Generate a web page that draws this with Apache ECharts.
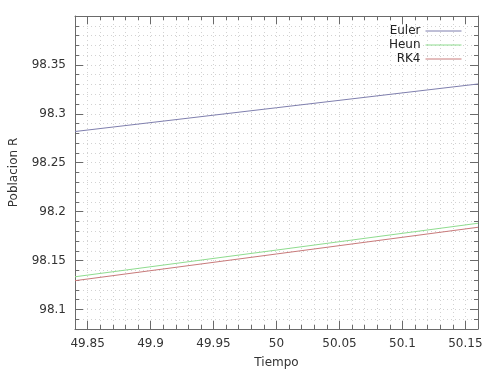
<!DOCTYPE html>
<html>
<head>
<meta charset="utf-8">
<script src="https://cdn.jsdelivr.net/npm/echarts@6/dist/echarts.min.js"></script>
<style>html,body{margin:0;padding:0;background:#fff}#c{width:500px;height:375px}</style>
</head>
<body>
<div id="c"></div>
<script>
var tiempo = [49.84, 50.00, 50.16];
var euler = [98.2819, 98.3062, 98.3305];
var heun  = [98.1334, 98.1607, 98.1881];
var rk4   = [98.1294, 98.1567, 98.1840];
var xTickLabels = [49.85, 49.9, 49.95, 50, 50.05, 50.1, 50.15];
var yTickLabels = [98.1, 98.15, 98.2, 98.25, 98.3, 98.35];
var xMin = 49.84, xMax = 50.16, yMin = 98.08, yMax = 98.40;

function pairs(xs, ys){ return xs.map(function(x,i){ return [x, ys[i]]; }); }

var font = 'DejaVu Sans';
var axisLineStyle = {color:'#6a6a6a', width:1};

function xAx(pos, opts){
  var a = {type:'value', position:pos, min:xMin, max:xMax, interval:0.01,
    axisLine:{show:true, onZero:false, lineStyle:axisLineStyle},
    axisTick:{show:true, inside:true, length:4, lineStyle:axisLineStyle},
    axisLabel:{show:false}, splitLine:{show:false}};
  return Object.assign(a, opts||{});
}
function yAx(pos, opts){
  var a = {type:'value', position:pos, min:yMin, max:yMax, interval:0.01,
    axisLine:{show:true, onZero:false, lineStyle:axisLineStyle},
    axisTick:{show:true, inside:true, length:4, lineStyle:axisLineStyle},
    axisLabel:{show:false}, splitLine:{show:false}};
  return Object.assign(a, opts||{});
}
var gridLine = {show:true, lineStyle:{color:'#d2d2d2', type:[1,3], width:1}};

var chart = echarts.init(document.getElementById('c'), null, {renderer:'canvas'});
chart.setOption({
  animation:false,
  backgroundColor:'#fff',
  textStyle:{fontFamily:font},
  grid:{left:72, right:22, top:16, bottom:46, containLabel:false},
  legend:{
    orient:'vertical', align:'right', right:33, top:19,
    itemWidth:36, itemHeight:12, itemGap:0,
    itemStyle:{opacity:0},
    lineStyle:{width:1},
    textStyle:{fontFamily:font, fontSize:12, color:'#222', lineHeight:14, height:14},
    data:['Euler','Heun','RK4']
  },
  xAxis:[
    xAx('bottom', {splitLine:gridLine,
      name:'Tiempo', nameLocation:'middle', nameGap:28,
      nameTextStyle:{fontFamily:font, fontSize:12, color:'#333'},
      axisLabel:{show:true, customValues:xTickLabels, margin:9, fontFamily:font, fontSize:12, color:'#333',
        formatter:function(v){ return String(+v.toFixed(2)); }}}),
    xAx('bottom', {axisLine:{show:false, onZero:false}, axisTick:{show:true, inside:true, length:8, customValues:xTickLabels, lineStyle:axisLineStyle}}),
    xAx('top'),
    xAx('top', {axisLine:{show:false, onZero:false}, axisTick:{show:true, inside:true, length:8, customValues:xTickLabels, lineStyle:axisLineStyle}})
  ],
  yAxis:[
    yAx('left', {splitLine:gridLine,
      name:'Poblacion R', nameLocation:'middle', nameGap:55,
      nameTextStyle:{fontFamily:font, fontSize:12, color:'#333'},
      axisLabel:{show:true, customValues:yTickLabels, margin:9, fontFamily:font, fontSize:12, color:'#333',
        formatter:function(v){ return String(+v.toFixed(2)); }}}),
    yAx('left', {axisLine:{show:false, onZero:false}, axisTick:{show:true, inside:true, length:8, customValues:yTickLabels, lineStyle:axisLineStyle}}),
    yAx('right'),
    yAx('right', {axisLine:{show:false, onZero:false}, axisTick:{show:true, inside:true, length:8, customValues:yTickLabels, lineStyle:axisLineStyle}})
  ],
  series:[
    {name:'Euler', type:'line', symbol:'none', data:pairs(tiempo, euler), lineStyle:{color:'#7f7fae', width:1}, itemStyle:{color:'#7f7fae'}},
    {name:'Heun', type:'line', symbol:'none', data:pairs(tiempo, heun), lineStyle:{color:'#8fdc8f', width:1}, itemStyle:{color:'#8fdc8f'}},
    {name:'RK4', type:'line', symbol:'none', data:pairs(tiempo, rk4), lineStyle:{color:'#c87a7a', width:1}, itemStyle:{color:'#c87a7a'}}
  ]
});
</script>
</body>
</html>
